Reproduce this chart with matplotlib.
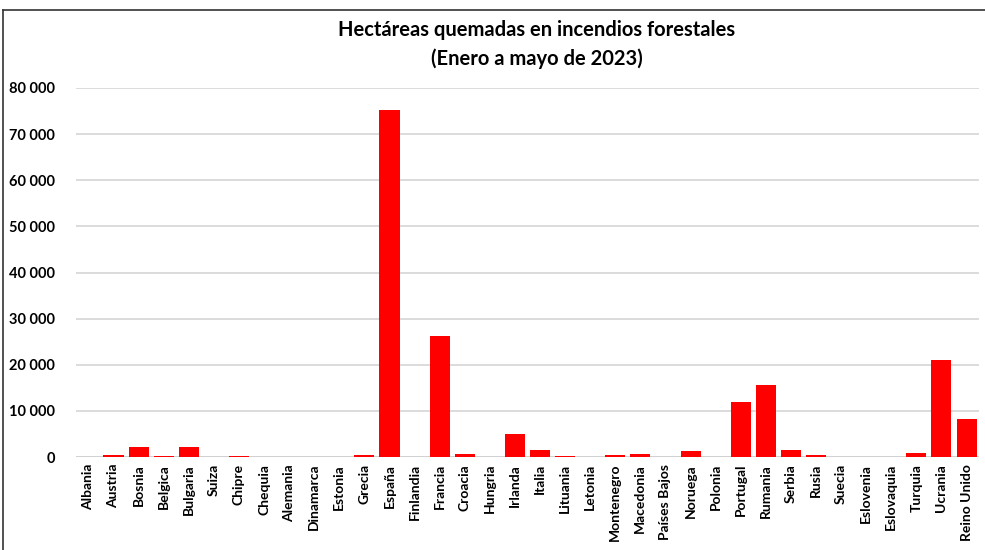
import matplotlib
matplotlib.use("Agg")
import matplotlib.pyplot as plt
from matplotlib.ticker import FuncFormatter
from matplotlib.lines import Line2D

countries = ["Albania", "Austria", "Bosnia", "Belgica", "Bulgaria", "Suiza", "Chipre",
             "Chequia", "Alemania", "Dinamarca", "Estonia", "Grecia", "España", "Finlandia",
             "Francia", "Croacia", "Hungria", "Irlanda", "Italia", "Lituania", "Letonia",
             "Montenegro", "Macedonia", "Países Bajos", "Noruega", "Polonia", "Portugal",
             "Rumania", "Serbia", "Rusia", "Suecia", "Eslovenia", "Eslovaquia", "Turquia",
             "Ucrania", "Reino Unido"]
hectares = [50, 400, 2200, 250, 2100, 0, 300,
            0, 0, 0, 0, 400, 75300, 0,
            26300, 700, 0, 5000, 1500, 300, 0,
            400, 600, 0, 1300, 0, 11900,
            15600, 1500, 400, 0, 0, 0, 900,
            21000, 8200]

plt.rcParams["font.family"] = ["Lato", "DejaVu Sans"]
plt.rcParams["font.weight"] = "bold"

fig = plt.figure(figsize=(9.85, 5.5), dpi=100)
ax = fig.add_axes([0.077, 0.169, 0.917, 0.671])

x = range(len(countries))
ax.bar(x, hectares, width=0.8, color="#ff0000", zorder=3)

ax.set_xlim(-0.5, len(countries) - 0.5)
ax.set_ylim(0, 80000)
ax.set_yticks(range(0, 80001, 10000))
ax.yaxis.set_major_formatter(FuncFormatter(lambda v, p: f"{int(v):,}".replace(",", " ")))
ax.set_xticks(list(x))
ax.set_xticklabels(countries, rotation=90, fontsize=10, fontweight="bold")
ax.tick_params(axis="y", labelsize=10.5, length=0, pad=15)
ax.tick_params(axis="x", length=0, pad=5)
ax.grid(axis="y", color="#d9d9d9", linewidth=1.3, zorder=0)
for s in ax.spines.values():
    s.set_visible(False)
ax.axhline(0, color="#d0d0d0", linewidth=1.3, zorder=2)

fig.text(0.545, 0.945, "Hectáreas quemadas en incendios forestales", ha="center",
         va="center", fontsize=14.5, fontweight="bold")
fig.text(0.545, 0.893, "(Enero a mayo de 2023)", ha="center", va="center",
         fontsize=14.5, fontweight="bold")

# outer frame (top and left edges visible in the cropped original)
fig.add_artist(Line2D([0.003, 1.0], [0.982, 0.982], color="#333333", linewidth=1.2,
                      transform=fig.transFigure))
fig.add_artist(Line2D([0.003, 0.003], [0.0, 0.982], color="#333333", linewidth=1.2,
                      transform=fig.transFigure))

fig.savefig("out.png", dpi=100)
